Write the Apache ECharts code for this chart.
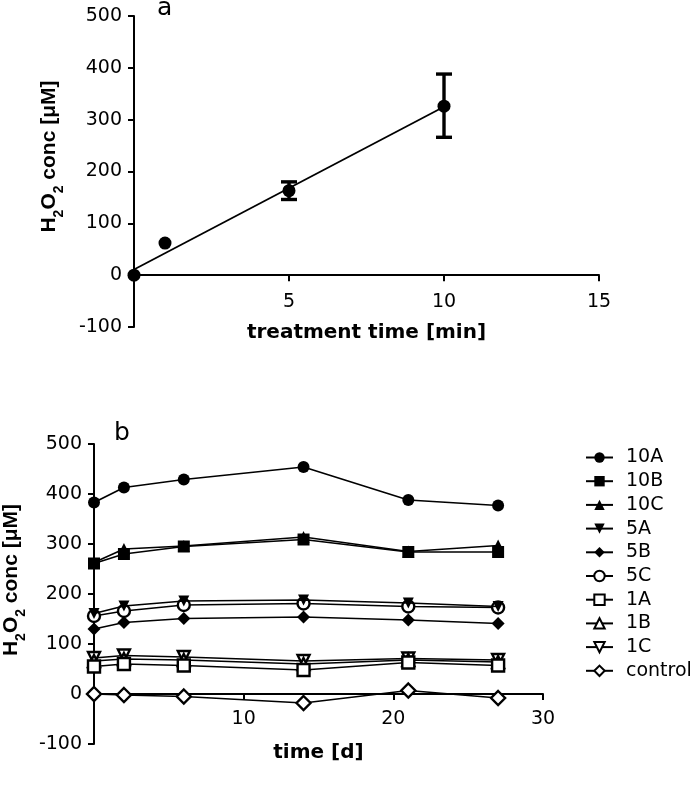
<!DOCTYPE html>
<html>
<head>
<meta charset="utf-8">
<script src="https://cdn.jsdelivr.net/npm/echarts@6/dist/echarts.min.js"></script>
<style>html,body{margin:0;padding:0;background:#fff}#c{width:700px;height:787px}</style>
</head>
<body>
<div id="c"></div>
<script>
// ---------- Panel a data ----------
var aTimes = [0, 1, 5, 10];
var aMeans = [0, 62, 163, 326];
var aErrLow = [null, null, 146, 266];
var aErrHigh = [null, null, 180, 388];
var aFitX = [0, 10];
var aFitY = [11, 325];

// ---------- Panel b data ----------
var bDays = [0, 2, 6, 14, 21, 27];
var bNames = ['10A', '10B', '10C', '5A', '5B', '5C', '1A', '1B', '1C', 'control'];
var s10A = [383, 413, 429, 454, 388, 377];
var s10B = [261, 280, 295, 309, 284, 284];
var s10C = [263, 290, 296, 314, 285, 297];
var s5A = [161, 176, 186, 188, 182, 175];
var s5B = [130, 143, 151, 154, 148, 141];
var s5C = [156, 166, 178, 181, 175, 173];
var s1A = [55, 60, 57, 48, 63, 57];
var s1B = [66, 70, 68, 60, 68, 64];
var s1C = [72, 77, 74, 66, 71, 68];
var sControl = [0, -2, -5, -18, 7, -8];

var bValues = [s10A, s10B, s10C, s5A, s5B, s5C, s1A, s1B, s1C, sControl];
var downTri = 'path://M0,0 L10,0 L5,10 Z';
var bSymbols = ['circle', 'rect', 'triangle', downTri, 'diamond', 'circle', 'rect', 'triangle', downTri, 'diamond'];
var bFilled = [true, true, true, true, true, false, false, false, false, false];
var bSizes = [12, 12, 12, 11, 13, 12, 12, 12, 12, 14];

var FONT = 'DejaVu Sans';
function axisCommon() {
  return {
    axisLine: {show: true, onZero: false, lineStyle: {color: '#000', width: 2}},
    axisTick: {show: true, length: 6, lineStyle: {color: '#000', width: 2}},
    splitLine: {show: false},
    axisLabel: {color: '#000', fontFamily: FONT, fontSize: 19}
  };
}
function merge(a, b) { for (var k in b) a[k] = b[k]; return a; }

function yName(pad) {
  return {
    name: '{n|H}{s|2}{n|O}{s|2}{n| conc [μM]}',
    nameLocation: 'middle',
    nameRotate: 90,
    nameTextStyle: {
      padding: [0, 0, 0, pad],
      rich: {
        n: {fontFamily: 'Liberation Sans', fontWeight: 'bold', fontSize: 21, color: '#000'},
        s: {fontFamily: 'Liberation Sans', fontWeight: 'bold', fontSize: 14, color: '#000', verticalAlign: 'bottom', padding: [0, 0, -6, 0]}
      }
    }
  };
}

var series = [];
// Panel a: fit line
series.push({
  type: 'line', xAxisIndex: 0, yAxisIndex: 0,
  data: aFitX.map(function (x, i) { return [x, aFitY[i]]; }),
  showSymbol: false, symbol: 'none',
  lineStyle: {color: '#000', width: 1.8}, silent: true, z: 2
});
// Panel a: error bars
series.push({
  type: 'custom', xAxisIndex: 0, yAxisIndex: 0, z: 3,
  data: aTimes.map(function (t, i) { return aErrLow[i] == null ? null : [t, aErrLow[i], aErrHigh[i]]; }).filter(function (d) { return d; }),
  encode: {x: 0, y: [1, 2]},
  renderItem: function (params, api) {
    var lo = api.coord([api.value(0), api.value(1)]);
    var hi = api.coord([api.value(0), api.value(2)]);
    var w = 8;
    var st = {stroke: '#000', lineWidth: 3.4};
    return {type: 'group', children: [
      {type: 'line', shape: {x1: lo[0], y1: lo[1], x2: hi[0], y2: hi[1]}, style: st},
      {type: 'line', shape: {x1: lo[0] - w, y1: lo[1], x2: lo[0] + w, y2: lo[1]}, style: st},
      {type: 'line', shape: {x1: hi[0] - w, y1: hi[1], x2: hi[0] + w, y2: hi[1]}, style: st}
    ]};
  }
});
// Panel a: points
series.push({
  type: 'scatter', xAxisIndex: 0, yAxisIndex: 0, z: 4,
  data: aTimes.map(function (t, i) { return [t, aMeans[i]]; }),
  symbol: 'circle', symbolSize: 13,
  itemStyle: {color: '#000', opacity: 1}
});
// Panel b series
bNames.forEach(function (nm, k) {
  series.push({
    name: nm, type: 'line', xAxisIndex: 1, yAxisIndex: 1,
    data: bDays.map(function (d, i) { return [d, bValues[k][i]]; }),
    symbol: bSymbols[k], symbolSize: bSizes[k], showSymbol: true,
    lineStyle: {color: '#000', width: 1.7},
    itemStyle: bFilled[k] ? {color: '#000', borderColor: '#000', borderWidth: 0, opacity: 1}
                          : {color: '#fff', borderColor: '#000', borderWidth: 2.4, opacity: 1},
    z: 5 + (9 - k)
  });
});

var option = {
  animation: false,
  backgroundColor: '#fff',
  title: [
    {text: 'a', left: 157, top: -4, padding: 0, textStyle: {fontFamily: FONT, fontWeight: 'normal', fontSize: 25, color: '#000'}},
    {text: 'b', left: 114, top: 421, padding: 0, textStyle: {fontFamily: FONT, fontWeight: 'normal', fontSize: 25, color: '#000'}}
  ],
  legend: {
    data: bNames, orient: 'vertical', left: 580, top: 443,
    itemWidth: 27, itemHeight: 13, itemGap: 4.7,
    textStyle: {fontFamily: FONT, fontSize: 19, color: '#000', padding: [0, 0, 0, 8]},
    selectedMode: false
  },
  grid: [
    {left: 134, top: 16, width: 465, height: 311, containLabel: false, outerBoundsMode: 'none'},
    {left: 94, top: 444, width: 449, height: 300, containLabel: false, outerBoundsMode: 'none'}
  ],
  xAxis: [
    merge(axisCommon(), {
      type: 'value', gridIndex: 0, min: 0, max: 15, interval: 5, offset: -311 / 6,
      name: 'treatment time [min]', nameLocation: 'middle', nameGap: 48,
      nameTextStyle: {fontFamily: FONT, fontWeight: 'bold', fontSize: 20, color: '#000'},
      axisLabel: {color: '#000', fontFamily: FONT, fontSize: 19, margin: 17, formatter: function (v) { return v === 0 ? '' : v; }}
    }),
    merge(axisCommon(), {
      type: 'value', gridIndex: 1, min: 0, max: 30, interval: 10, offset: -50,
      name: 'time [d]', nameLocation: 'middle', nameGap: 49,
      nameTextStyle: {fontFamily: FONT, fontWeight: 'bold', fontSize: 20, color: '#000'},
      axisLabel: {color: '#000', fontFamily: FONT, fontSize: 19, margin: 16, formatter: function (v) { return v === 0 ? '' : v; }}
    })
  ],
  yAxis: [
    merge(merge(axisCommon(), {type: 'value', gridIndex: 0, min: -100, max: 500, interval: 100, nameGap: 74}), yName(30)),
    merge(merge(axisCommon(), {type: 'value', gridIndex: 1, min: -100, max: 500, interval: 100, nameGap: 70}), yName(28))
  ],
  series: series
};
option.yAxis.forEach(function (y) { y.axisLabel.margin = 12; });

var chart = echarts.init(document.getElementById('c'), null, {renderer: 'canvas'});
chart.setOption(option);
</script>
</body>
</html>
